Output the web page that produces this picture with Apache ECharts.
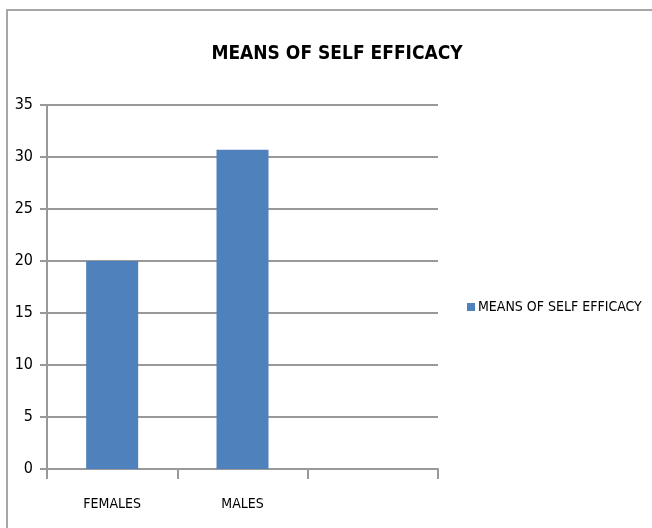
<!DOCTYPE html>
<html>
<head>
    <meta charset="utf-8" />
    <title></title>
    <style>
        html, body { margin: 0; padding: 0; background: #fff; }
        #frame { position: absolute; left: 6px; top: 9px; width: 646px; height: 519px;
                 border-top: 2px solid #a6a6a6; border-left: 2px solid #a6a6a6; }
        #chart { position: absolute; left: 0; top: 0; width: 652px; height: 528px; }
    </style>
</head>
<body>
    <div id="frame"></div>
    <div id="chart"></div>
<script src="https://cdn.jsdelivr.net/npm/echarts@6/dist/echarts.min.js"></script>
<script>
    var categories = ['FEMALES', 'MALES', ''];
    var meansOfSelfEfficacy = [20.0, 30.7, null];
    var seriesName = 'MEANS OF SELF EFFICACY';
    var titleText = 'MEANS OF SELF EFFICACY';

    var font = '"Liberation Sans Narrow", "DejaVu Sans Condensed", "Liberation Sans", sans-serif';
    var chart = echarts.init(document.getElementById('chart'));

    var option = {
        animation: false,
        title: {
            text: titleText,
            left: 332,
            textAlign: 'center',
            top: 40,
            textStyle: { fontFamily: font, fontSize: 19, fontWeight: 'bold', color: '#000' }
        },
        legend: {
            data: [seriesName],
            orient: 'vertical',
            left: 462,
            top: 295,
            icon: 'rect',
            itemWidth: 8,
            itemHeight: 8,
            itemGap: 5,
            textStyle: { fontFamily: font, fontSize: 14, color: '#000', padding: [0, 0, 0, -2] }
        },
        grid: { left: 47, right: 214, top: 105, bottom: 59 },
        xAxis: {
            type: 'category',
            data: categories,
            axisLine: { lineStyle: { color: '#999', width: 2 } },
            axisTick: { show: true, length: 10, lineStyle: { color: '#999', width: 2 } },
            axisLabel: { margin: 28, fontFamily: font, fontSize: 14, color: '#000' }
        },
        yAxis: {
            type: 'value',
            min: 0,
            max: 35,
            interval: 5,
            axisLine: { show: true, lineStyle: { color: '#999', width: 2 } },
            axisTick: { show: true, length: 7, lineStyle: { color: '#999', width: 2 } },
            axisLabel: { margin: 14, fontFamily: font, fontSize: 16, color: '#000' },
            splitLine: { lineStyle: { color: '#999', width: 2 } }
        },
        series: [
            {
                name: seriesName,
                type: 'bar',
                data: meansOfSelfEfficacy,
                barWidth: 52,
                itemStyle: { color: '#4f81bd' }
            }
        ]
    };
    chart.setOption(option);
</script>
</body>
</html>
